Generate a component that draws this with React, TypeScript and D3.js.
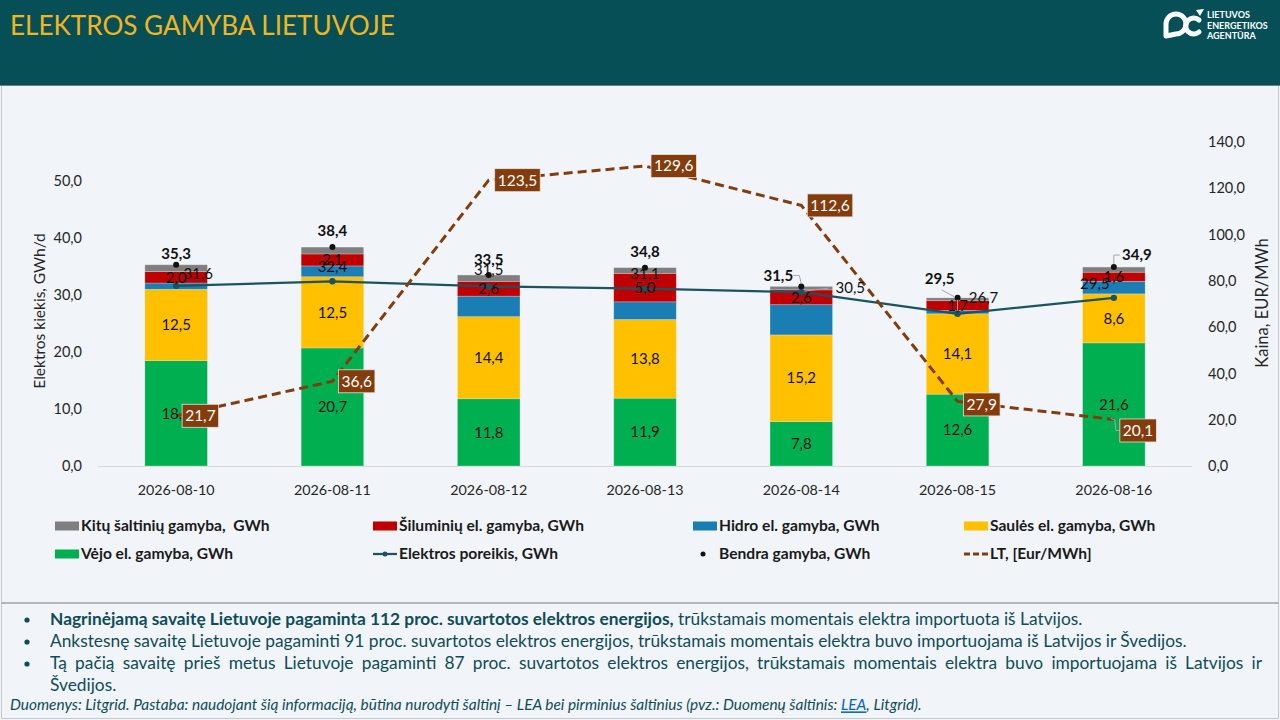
import { useEffect, useRef } from "react";
import * as d3 from "d3";

// chart data
const dates = ["2026-08-10", "2026-08-11", "2026-08-12", "2026-08-13", "2026-08-14", "2026-08-15", "2026-08-16"];
const windGen = [18.5, 20.7, 11.8, 11.9, 7.8, 12.6, 21.6];
const solarGen = [12.5, 12.5, 14.4, 13.8, 15.2, 14.1, 8.6];
const hydroGen = [1.1, 1.9, 3.6, 3.1, 5.3, 0.6, 2.2];
const thermalGen = [2.0, 2.1, 2.6, 5.0, 2.6, 1.7, 1.6];
const otherGen = [1.2, 1.2, 1.1, 1.0, 0.6, 0.5, 0.9];
const totalGen = [35.3, 38.4, 33.5, 34.8, 31.5, 29.5, 34.9];
const demand = [31.6, 32.4, 31.5, 31.1, 30.5, 26.7, 29.5];
const priceLT = [21.7, 36.6, 123.5, 129.6, 112.6, 27.9, 20.1];
const leftTicks = [0, 10, 20, 30, 40, 50];
const rightTicks = [0, 20, 40, 60, 80, 100, 120, 140];

// label nudges (Excel had them dragged by hand)
const totalLabelOffset = [[0, -11], [0, -16], [0, -15], [0, -16], [-23, -11], [-18, -19], [23, -12]];
const demandLabelOffset = [[22, -12], [0, -15], [0, -16.5], [0, -15], [49, -4], [26, -16.5], [-19, -13.6]];
const priceLabelDy = [0, 0, 0, 0, 0, 3, 11];

const FONT = "Lato, 'Open Sans', sans-serif";
const fmt = (v: number) => v.toFixed(1).replace(".", ",");

const App = () => {
  const ref = useRef<SVGSVGElement>(null);

  useEffect(() => {
    document.body.style.margin = "0";
    const svg = d3.select(ref.current);
    svg.selectAll("*").remove();
    svg.style("font-family", FONT);

    // background + header
    svg.append("rect").attr("width", 1280).attr("height", 720).attr("fill", "#F1F4F8");
    svg.append("rect").attr("width", 1280).attr("height", 85).attr("fill", "#074F57");
    svg.append("line").attr("x1", 0).attr("x2", 1280).attr("y1", 85.5).attr("y2", 85.5).attr("stroke", "#6F7F82");

    const title = svg
      .append("text")
      .attr("x", 10)
      .attr("y", 35)
      .attr("fill", "#F2B51E")
      .style("font-size", "28px")
      .text("ELEKTROS GAMYBA LIETUVOJE");
    const tw = (title.node() as SVGTextElement).getComputedTextLength();
    title.style("font-size", `${(28 * 385) / tw}px`);

    // logo
    const logo = svg.append("g").attr("fill", "none").attr("stroke", "#fff").attr("stroke-width", 5);
    logo.append("path").attr("d", "M1166,36 L1166,24 A10,10 0 1 1 1176,34 Z").attr("stroke-linejoin", "round");
    logo.append("path").attr("d", "M1199,20 A8,8 0 1 0 1199,32").attr("stroke-linecap", "round");
    svg.append("path").attr("d", "M1196,10 L1204,9 L1200,16 Z").attr("fill", "#fff");
    ["LIETUVOS", "ENERGETIKOS", "AGENTŪRA"].forEach((t, i) => {
      svg
        .append("text")
        .attr("x", 1207)
        .attr("y", 18 + i * 10.5)
        .attr("fill", "#fff")
        .style("font-size", "9px")
        .style("font-weight", 700)
        .text(t);
    });

    // frame lines
    const frame = svg.append("g").attr("stroke", "#C3C8CD").attr("stroke-width", 1);
    frame.append("line").attr("x1", 1.5).attr("x2", 1.5).attr("y1", 86).attr("y2", 719);
    frame.append("line").attr("x1", 1278.5).attr("x2", 1278.5).attr("y1", 86).attr("y2", 719);
    frame.append("line").attr("x1", 1).attr("x2", 1279).attr("y1", 718.5).attr("y2", 718.5);
    svg.append("line").attr("x1", 1).attr("x2", 1279).attr("y1", 603).attr("y2", 603).attr("stroke", "#B4B6B8").attr("stroke-width", 2);

    // scales
    const x = d3.scaleBand().domain(dates).range([98, 1192]).paddingInner(0.6).paddingOuter(0.3);
    const bw = x.bandwidth();
    const cx = (i: number) => (x(dates[i]) as number) + bw / 2;
    const yL = d3.scaleLinear().domain([0, 56.84]).range([466, 142]);
    const yR = d3.scaleLinear().domain([0, 140]).range([466, 142]);

    const keys = ["wind", "solar", "hydro", "thermal", "other"];
    const colors: Record<string, string> = {
      wind: "#00B050",
      solar: "#FFC000",
      hydro: "#1A7DB4",
      thermal: "#C00000",
      other: "#7F7F7F",
    };
    const rows = dates.map((d, i) => ({
      date: d,
      wind: windGen[i],
      solar: solarGen[i],
      hydro: hydroGen[i],
      thermal: thermalGen[i],
      other: otherGen[i],
    }));
    const series = d3.stack<any>().keys(keys)(rows);

    // axis baseline
    svg.append("line").attr("x1", 98).attr("x2", 1192).attr("y1", yL(0) + 0.5).attr("y2", yL(0) + 0.5).attr("stroke", "#D9D9D9");

    // left ticks
    svg
      .append("g")
      .selectAll("text")
      .data(leftTicks)
      .enter()
      .append("text")
      .attr("x", 82)
      .attr("y", (d) => yL(d))
      .attr("dy", "0.35em")
      .attr("text-anchor", "end")
      .attr("fill", "#262626")
      .style("font-size", "14.5px")
      .text((d) => fmt(d));
    // right ticks
    svg
      .append("g")
      .selectAll("text")
      .data(rightTicks)
      .enter()
      .append("text")
      .attr("x", 1208)
      .attr("y", (d) => yR(d))
      .attr("dy", "0.35em")
      .attr("fill", "#262626")
      .style("font-size", "14.5px")
      .text((d) => fmt(d));
    // axis titles
    svg
      .append("text")
      .attr("transform", "translate(40,311) rotate(-90)")
      .attr("text-anchor", "middle")
      .attr("dy", "0.35em")
      .attr("fill", "#262626")
      .style("font-size", "15.5px")
      .text("Elektros kiekis, GWh/d");
    svg
      .append("text")
      .attr("transform", "translate(1262,303) rotate(-90)")
      .attr("text-anchor", "middle")
      .attr("dy", "0.35em")
      .attr("fill", "#262626")
      .style("font-size", "16.5px")
      .text("Kaina, EUR/MWh");
    // date labels
    svg
      .append("g")
      .selectAll("text")
      .data(dates)
      .enter()
      .append("text")
      .attr("x", (d, i) => cx(i))
      .attr("y", 490)
      .attr("dy", "0.35em")
      .attr("text-anchor", "middle")
      .attr("fill", "#262626")
      .style("font-size", "14.3px")
      .text((d) => d);

    // stacked bars
    const bars = svg.append("g");
    series.forEach((s) => {
      bars
        .append("g")
        .attr("fill", colors[s.key])
        .selectAll("rect")
        .data(s)
        .enter()
        .append("rect")
        .attr("x", (d: any) => x(d.data.date) as number)
        .attr("width", bw)
        .attr("y", (d) => yL(d[1]))
        .attr("height", (d) => yL(d[0]) - yL(d[1]))
        .attr("stroke", "#F1F4F8")
        .attr("stroke-opacity", 0.35)
        .attr("stroke-width", 0.75);
    });

    // demand line
    const demandLine = d3
      .line<number>()
      .x((d, i) => cx(i))
      .y((d) => yL(d));
    svg.append("path").attr("d", demandLine(demand)).attr("fill", "none").attr("stroke", "#1B5360").attr("stroke-width", 2.25);
    svg
      .append("g")
      .selectAll("circle")
      .data(demand)
      .enter()
      .append("circle")
      .attr("cx", (d, i) => cx(i))
      .attr("cy", (d) => yL(d))
      .attr("r", 3.2)
      .attr("fill", "#1B5360");

    // total generation markers
    svg
      .append("g")
      .selectAll("circle")
      .data(totalGen)
      .enter()
      .append("circle")
      .attr("cx", (d, i) => cx(i))
      .attr("cy", (d) => yL(d))
      .attr("r", 3)
      .attr("fill", "#111");

    // price line
    const priceLine = d3
      .line<number>()
      .x((d, i) => cx(i))
      .y((d) => yR(d));
    svg
      .append("path")
      .attr("d", priceLine(priceLT))
      .attr("fill", "none")
      .attr("stroke", "#843C0C")
      .attr("stroke-width", 3)
      .attr("stroke-dasharray", "9,5");

    // segment labels: wind, solar, thermal
    const labelG = svg.append("g").style("font-size", "15px").attr("fill", "#111").attr("text-anchor", "middle");
    series
      .filter((s) => ["wind", "solar", "thermal"].includes(s.key))
      .forEach((s) => {
        s.forEach((d: any, i: number) => {
          labelG
            .append("text")
            .attr("x", cx(i))
            .attr("y", (yL(d[0]) + yL(d[1])) / 2)
            .attr("dy", "0.35em")
            .text(fmt(d[1] - d[0]));
        });
      });

    // leader lines
    const leader = (pts: number[][]) =>
      svg
        .append("path")
        .attr("d", d3.line()(pts as [number, number][]))
        .attr("fill", "none")
        .attr("stroke", "#A6A6A6")
        .attr("stroke-width", 1);
    const rel = (i: number, v: number, pts: number[][]) => pts.map(([dx, dy]) => [cx(i) + dx, v + dy]);
    leader(rel(4, yL(totalGen[4]), [[-8, -11], [-2, -11], [0, -3]]));
    leader(rel(5, yL(totalGen[5]), [[-16, -8], [-3, -1]]));
    leader(rel(6, yL(totalGen[6]), [[0, -3], [0, -12], [6, -12]]));
    leader(rel(4, yL(demand[4]), [[3, -1], [27, -4]]));
    leader(rel(5, yL(demand[5]), [[0, -14], [0, -3]]));
    leader(rel(6, yR(priceLT[6]), [[-3, -1], [1, 0.5], [2, 11], [7, 11]]));

    // demand labels
    demand.forEach((v, i) => {
      labelG
        .append("text")
        .attr("x", cx(i) + demandLabelOffset[i][0])
        .attr("y", yL(v) + demandLabelOffset[i][1])
        .attr("dy", "0.35em")
        .text(fmt(v));
    });
    // total labels
    totalGen.forEach((v, i) => {
      labelG
        .append("text")
        .attr("x", cx(i) + totalLabelOffset[i][0])
        .attr("y", yL(v) + totalLabelOffset[i][1])
        .attr("dy", "0.35em")
        .style("font-weight", 700)
        .text(fmt(v));
    });

    // price labels in brown boxes
    priceLT.forEach((v, i) => {
      const g = svg.append("g");
      const t = g
        .append("text")
        .attr("x", cx(i) + 9)
        .attr("y", yR(v) + priceLabelDy[i])
        .attr("dy", "0.35em")
        .attr("fill", "#fff")
        .style("font-size", "15.5px")
        .text(fmt(v));
      const w = (t.node() as SVGTextElement).getComputedTextLength();
      g.insert("rect", "text")
        .attr("x", cx(i) + 6)
        .attr("y", yR(v) + priceLabelDy[i] - 11.5)
        .attr("width", w + 6)
        .attr("height", 23)
        .attr("fill", "#843C0C")
        .attr("stroke", "#E8E8E8")
        .attr("stroke-width", 0.75);
    });

    // legend
    const legCols = [55, 373, 693, 964];
    const legRows = [526, 554];
    const legend = svg.append("g").style("font-size", "15.6px").style("font-weight", 700).attr("fill", "#1A1A1A");
    const legendItems = [
      { type: "rect", color: colors.other, label: "Kitų šaltinių gamyba,\u00A0 GWh" },
      { type: "rect", color: colors.thermal, label: "Šiluminių el. gamyba, GWh" },
      { type: "rect", color: colors.hydro, label: "Hidro el. gamyba, GWh" },
      { type: "rect", color: colors.solar, label: "Saulės el. gamyba, GWh" },
      { type: "rect", color: colors.wind, label: "Vėjo el. gamyba, GWh" },
      { type: "line", color: "#1B5360", label: "Elektros poreikis, GWh" },
      { type: "dot", color: "#111", label: "Bendra gamyba, GWh" },
      { type: "dash", color: "#843C0C", label: "LT, [Eur/MWh]" },
    ];
    legendItems.forEach((it, k) => {
      const lx = legCols[k % 4];
      const ly = legRows[Math.floor(k / 4)];
      if (it.type === "rect") {
        legend.append("rect").attr("x", lx).attr("y", ly - 4.5).attr("width", 24).attr("height", 9).attr("fill", it.color);
      } else if (it.type === "line") {
        legend.append("line").attr("x1", lx).attr("x2", lx + 24).attr("y1", ly).attr("y2", ly).attr("stroke", it.color).attr("stroke-width", 2.25);
        legend.append("circle").attr("cx", lx + 12).attr("cy", ly).attr("r", 2.5).attr("fill", it.color);
      } else if (it.type === "dot") {
        legend.append("circle").attr("cx", lx + 10).attr("cy", ly).attr("r", 2.5).attr("fill", it.color);
      } else {
        legend
          .append("line")
          .attr("x1", lx)
          .attr("x2", lx + 24)
          .attr("y1", ly)
          .attr("y2", ly)
          .attr("stroke", it.color)
          .attr("stroke-width", 3)
          .attr("stroke-dasharray", "6,3");
      }
      legend
        .append("text")
        .attr("x", lx + 26)
        .attr("y", ly)
        .attr("dy", "0.35em")
        .text(it.label);
    });

    // bottom notes
    const teal = "#0E4C58";
    const notes = svg.append("g").attr("fill", teal);
    const probe = notes
      .append("text")
      .attr("x", 50)
      .attr("y", 641)
      .attr("dy", "0.35em")
      .style("font-size", "16px")
      .text("Ankstesnę savaitę Lietuvoje pagaminti 91 proc. suvartotos elektros energijos, trūkstamais momentais elektra buvo importuojama iš Latvijos ir Švedijos.");
    const fs = (16 * 1138) / (probe.node() as SVGTextElement).getComputedTextLength();
    probe.style("font-size", `${fs}px`);

    const l1 = notes.append("text").attr("x", 50).attr("y", 619).attr("dy", "0.35em").style("font-size", `${fs}px`);
    l1.append("tspan").style("font-weight", 700).text("Nagrinėjamą savaitę Lietuvoje pagaminta 112 proc. suvartotos elektros energijos,");
    l1.append("tspan").text(" trūkstamais momentais elektra importuota iš Latvijos.");

    const l3 = notes
      .append("text")
      .attr("x", 50)
      .attr("y", 663)
      .attr("dy", "0.35em")
      .style("font-size", `${fs}px`)
      .text("Tą pačią savaitę prieš metus Lietuvoje pagaminti 87 proc. suvartotos elektros energijos, trūkstamais momentais elektra buvo importuojama iš Latvijos ir");
    const l3w = (l3.node() as SVGTextElement).getComputedTextLength();
    const spaces = (l3.text().match(/ /g) || []).length;
    l3.style("word-spacing", `${(1212 - l3w) / spaces}px`);

    notes.append("text").attr("x", 50).attr("y", 685).attr("dy", "0.35em").style("font-size", `${fs}px`).text("Švedijos.");

    [619, 641, 663].forEach((by) => {
      notes.append("circle").attr("cx", 27).attr("cy", by + 1).attr("r", 2.6);
    });

    const foot = notes.append("text").attr("x", 10).attr("y", 705).attr("dy", "0.35em").style("font-size", "13px").style("font-style", "italic");
    foot.append("tspan").text("Duomenys: Litgrid. Pastaba: naudojant šią informaciją, būtina nurodyti šaltinį – LEA bei pirminius šaltinius (pvz.: Duomenų šaltinis: ");
    foot.append("tspan").attr("fill", "#0563C1").style("text-decoration", "underline").text("LEA");
    foot.append("tspan").text(", Litgrid).");
    const fw = (foot.node() as SVGTextElement).getComputedTextLength();
    foot.style("font-size", `${(13 * 912) / fw}px`);
  }, []);

  return <svg ref={ref} width={1280} height={720} style={{ display: "block" }} />;
};

export default App;
